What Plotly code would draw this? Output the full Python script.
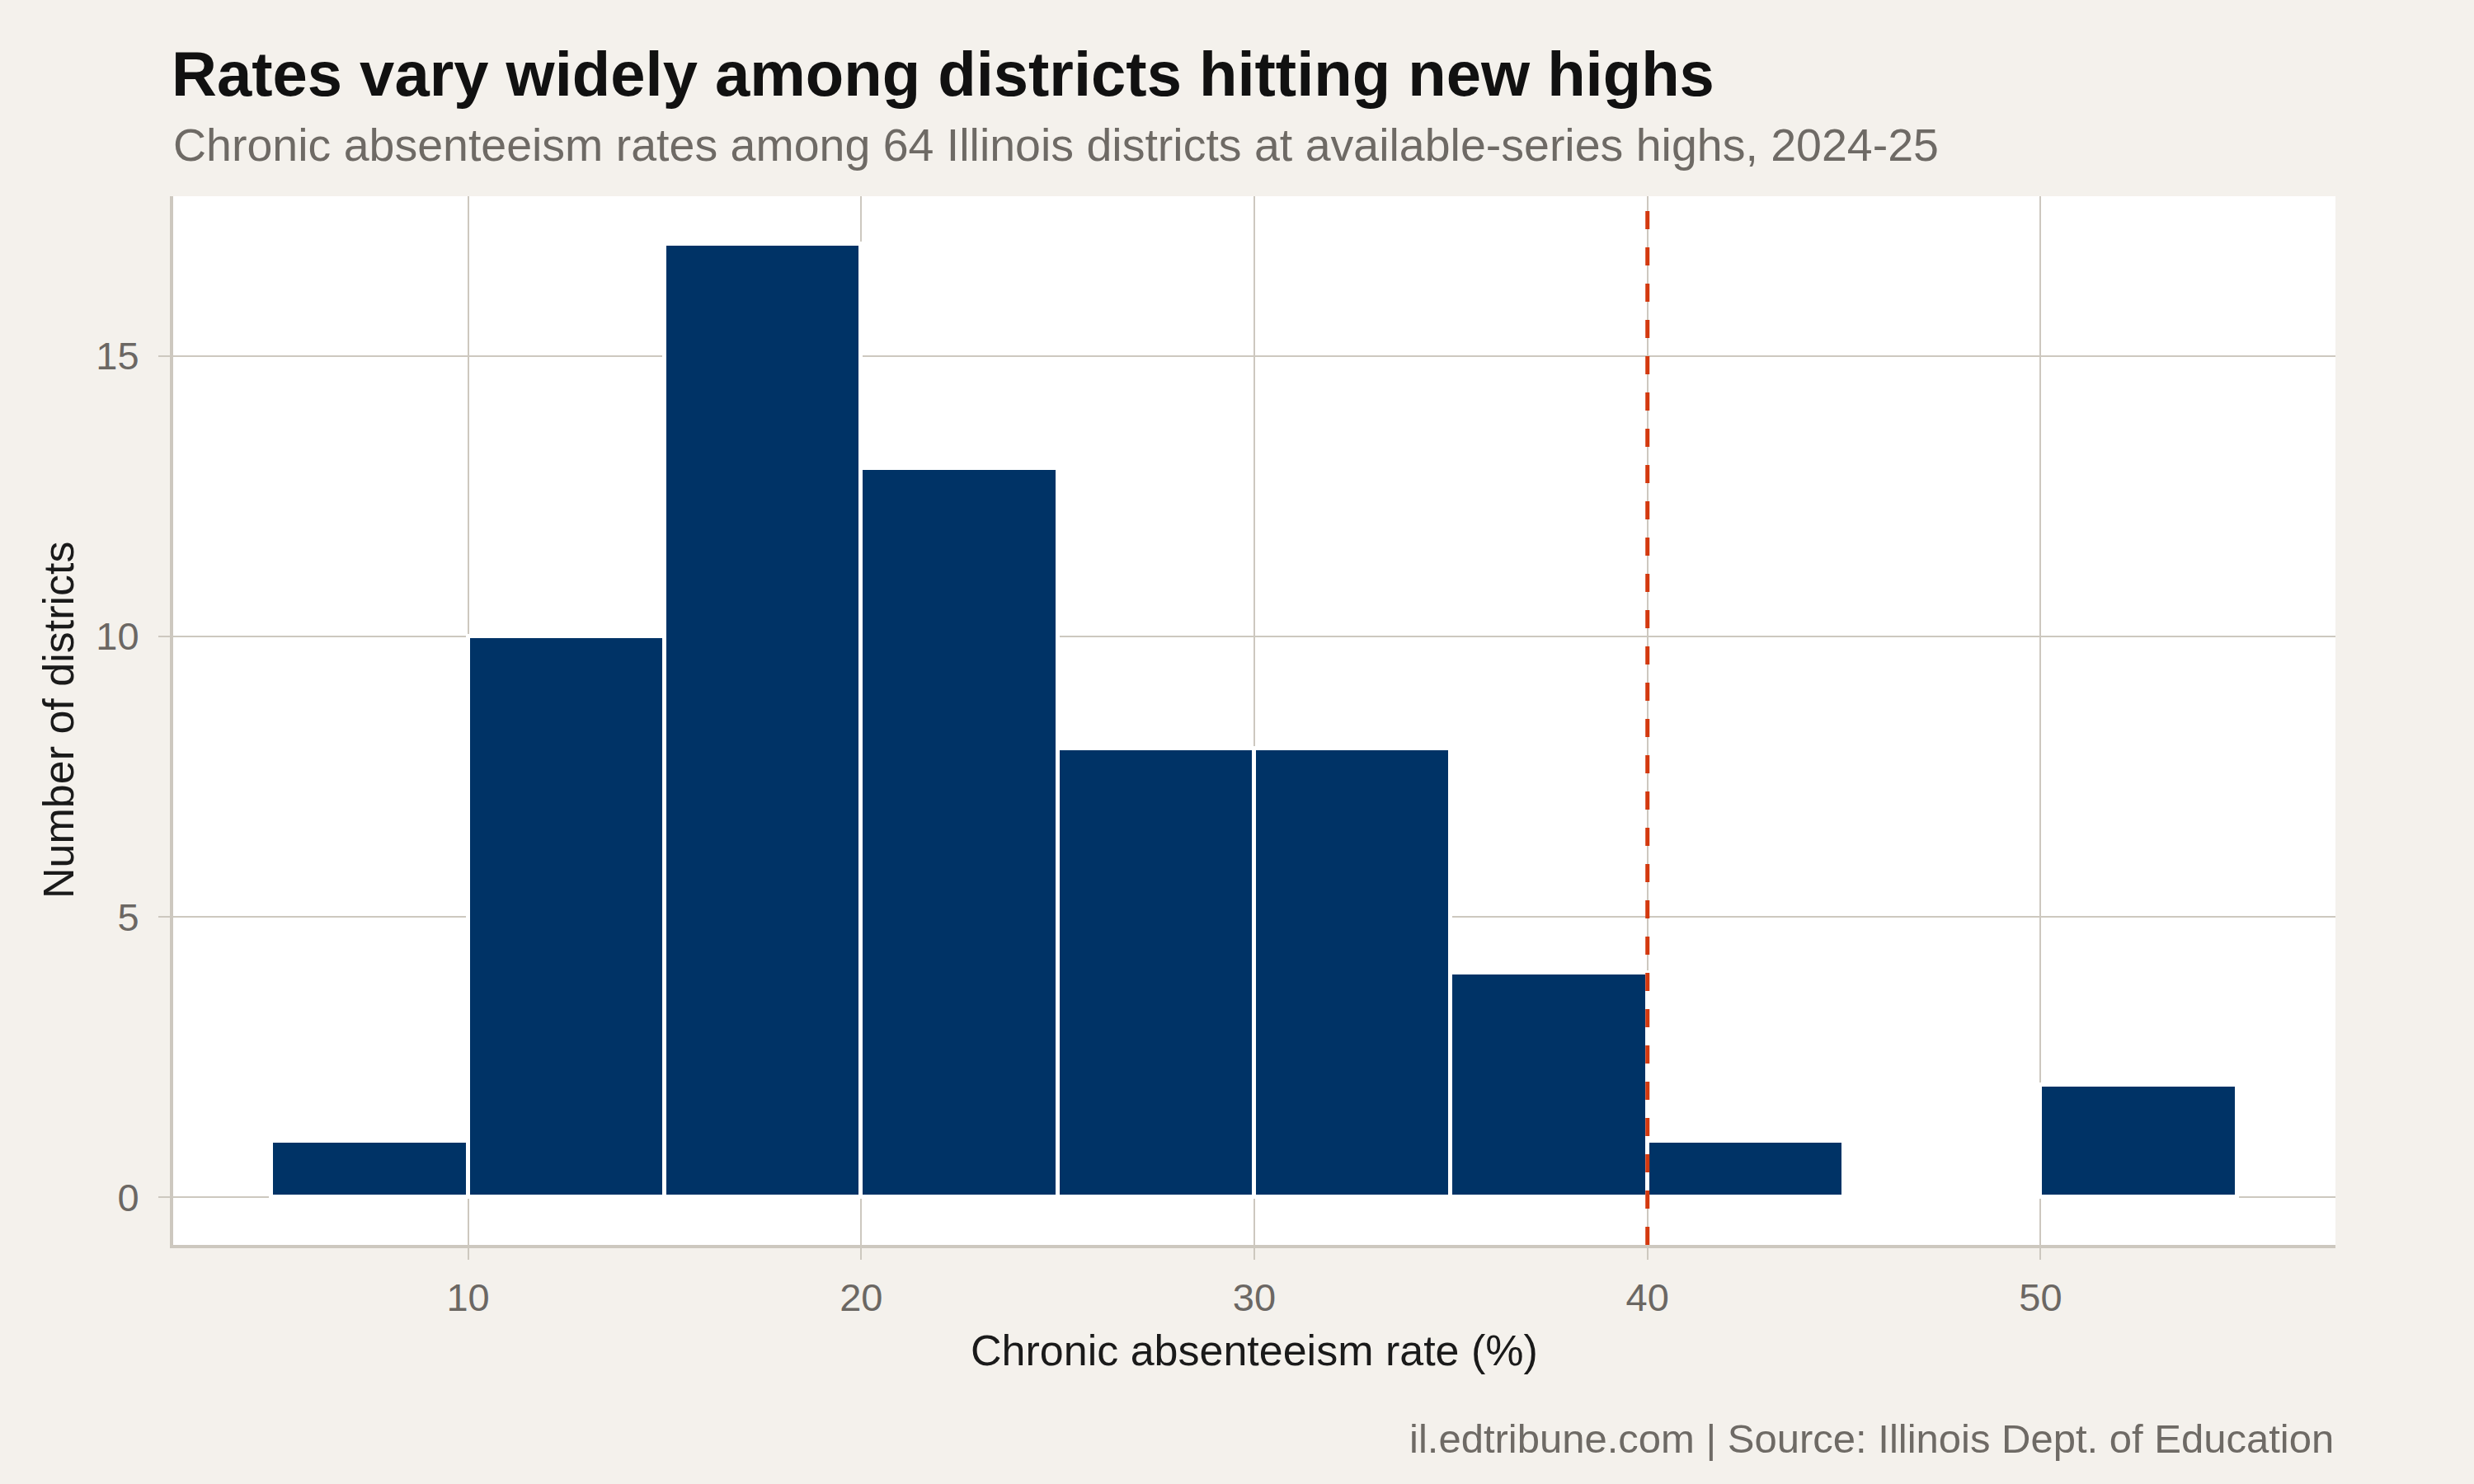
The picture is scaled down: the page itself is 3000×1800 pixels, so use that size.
import plotly.graph_objects as go

# ---- data ----
bin_starts = [5, 10, 15, 20, 25, 30, 35, 40, 45, 50]
bin_width = 5
counts = [1, 10, 17, 13, 8, 8, 4, 1, 0, 2]
threshold = 40
x_ticks = [10, 20, 30, 40, 50]
y_ticks = [0, 5, 10, 15]

title = "Rates vary widely among districts hitting new highs"
subtitle = "Chronic absenteeism rates among 64 Illinois districts at available-series highs, 2024-25"
caption = "il.edtribune.com | Source: Illinois Dept. of Education"
x_title = "Chronic absenteeism rate (%)"
y_title = "Number of districts"

# ---- layout geometry ----
W, H = 3000, 1800
L, R, T, B = 210, 2832, 238, 1510
FONT = "Liberation Sans, Arial, Helvetica, sans-serif"
BG = "#F4F1EC"
GRID = "#CDC8BF"
BAR = "#003366"
RED = "#D3390F"

centers = [s + bin_width / 2 for s in bin_starts]

fig = go.Figure()
fig.add_trace(go.Bar(
    x=centers, y=counts, width=[bin_width] * len(centers),
    marker=dict(color=BAR, line=dict(color="white", width=5)),
    hoverinfo="x+y", showlegend=False,
))

ymax = max(counts)
xmin, xmax = bin_starts[0], bin_starts[-1] + bin_width
xpad = (xmax - xmin) * 0.05
ypad = ymax * 0.05

def py(ypx):
    return (B - ypx) / (B - T)

def px(xpx):
    return (xpx - L) / (R - L)

fig.add_shape(type="line", xref="x", yref="paper", x0=threshold, x1=threshold, y0=0, y1=1,
              line=dict(color=RED, width=5, dash="22px,22px"), layer="above")

annotations = [
    dict(text=f"<b>{title}</b>", x=px(L - 4), y=py(90), xanchor="left", yanchor="middle",
         font=dict(size=76, color="#111111", family=FONT)),
    dict(text=subtitle, x=px(L - 2), y=py(176), xanchor="left", yanchor="middle",
         font=dict(size=55.5, color="#6E6A65", family=FONT)),
    dict(text=caption, x=px(R), y=py(1745), xanchor="right", yanchor="middle",
         font=dict(size=49, color="#6E6A65", family=FONT)),
    dict(text=x_title, x=px((L + R) / 2), y=py(1638), xanchor="center", yanchor="middle",
         font=dict(size=52, color="#1A1A1A", family=FONT)),
    dict(text=y_title, x=px(71), y=py((T + B) / 2), xanchor="center", yanchor="middle", textangle=-90,
         font=dict(size=52, color="#1A1A1A", family=FONT)),
]
for a in annotations:
    a.update(xref="paper", yref="paper", showarrow=False)

fig.update_layout(
    width=W, height=H,
    margin=dict(l=L, r=W - R, t=T, b=H - B, pad=0),
    paper_bgcolor=BG, plot_bgcolor="white",
    bargap=0,
    annotations=annotations,
    font=dict(family=FONT),
)
axis_common = dict(
    showgrid=True, gridcolor=GRID, gridwidth=2,
    showline=True, linecolor=GRID, linewidth=4,
    ticks="outside", ticklen=14, tickwidth=2, tickcolor=GRID,
    tickfont=dict(size=47, color="#6B6763", family=FONT),
    zeroline=False,
)
fig.update_xaxes(range=[xmin - xpad, xmax + xpad], tickvals=x_ticks, ticklabelstandoff=6, **axis_common)
fig.update_yaxes(range=[-ypad, ymax + ypad], tickvals=y_ticks, ticklabelstandoff=14, **axis_common)

fig.write_html("out.html")
